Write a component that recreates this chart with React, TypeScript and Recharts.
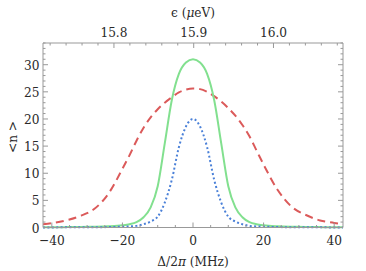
import { LineChart, Line, XAxis, YAxis } from "recharts";

// detuning grid, MHz
const delta = [
  -42.5, -40, -36, -32, -28, -24, -20, -18, -16, -14, -12, -10, -8, -6, -4, -2,
  0, 2, 4, 6, 8, 10, 12, 14, 16, 18, 20, 24, 28, 32, 36, 40, 42.5,
];

const redDashed = [
  0.6, 0.8, 1.3, 2.1, 3.4, 6.2, 10.8, 13.3, 16.0, 18.4, 20.3, 21.8, 23.0, 24.0,
  24.9, 25.4, 25.6, 25.5, 25.0, 24.2, 23.2, 22.0, 20.6, 18.9, 16.8, 14.2, 11.6,
  6.9, 3.8, 2.3, 1.3, 0.85, 0.6,
];

const greenSolid = [
  0.05, 0.05, 0.07, 0.1, 0.14, 0.22, 0.4, 0.6, 1.0, 1.9, 3.7, 7.6, 15.5, 23.5,
  28.3, 30.4, 31.0, 30.4, 28.3, 23.5, 15.5, 7.6, 3.7, 1.9, 1.0, 0.6, 0.4,
  0.22, 0.14, 0.1, 0.07, 0.05, 0.05,
];

const blueDotted = [
  0.02, 0.02, 0.03, 0.04, 0.05, 0.08, 0.15, 0.2, 0.3, 0.6, 1.1, 2.0, 4.6, 8.8,
  14.8, 18.6, 20.0, 18.6, 14.8, 8.8, 4.6, 2.0, 1.1, 0.6, 0.3, 0.2, 0.15, 0.08,
  0.05, 0.04, 0.03, 0.02, 0.02,
];

const xMajor = [-40, -20, 0, 20, 40];
const yMajor = [0, 5, 10, 15, 20, 25, 30];
const epsMajor = [15.8, 15.9, 16.0];
// minor ticks on the energy axis, μeV
const epsTicks = [
  15.72, 15.74, 15.76, 15.78, 15.8, 15.82, 15.84, 15.86, 15.88, 15.9, 15.92,
  15.94, 15.96, 15.98, 16.0, 16.02, 16.04, 16.06, 16.08,
];

// energy axis sits on the detuning scale: 15.9 μeV ≈ 0.2 MHz, 0.1 μeV ≈ 22.6 MHz
const EPS0 = 15.9;
const D0 = 0.2;
const MHZ_PER_UEV = 226;
const epsToDelta = (e: number) => (e - EPS0) * MHZ_PER_UEV + D0;
const deltaToEps = (d: number) => (d - D0) / MHZ_PER_UEV + EPS0;

const xTicks = Array.from({ length: 17 }, (_, i) => -40 + i * 5);
const yTicks = Array.from({ length: 35 }, (_, i) => i);
const topTicks = epsTicks.map(epsToDelta);

const data = delta.map((d, i) => ({
  d,
  red: redDashed[i],
  green: greenSolid[i],
  blue: blueDotted[i],
}));

const AXIS = "#999";
const TEXT = "#2a2a2a";
const textStyle = {
  fontFamily: "'DejaVu Serif Condensed', 'DejaVu Serif', serif",
  fontSize: 13.5,
};

const fmt = (v: number) => (v < 0 ? "\u2212" + Math.abs(v) : String(v));

function BottomTick({ x, y, payload }: any) {
  const v = payload.value;
  const major = xMajor.includes(v);
  return (
    <g>
      <line x1={x} x2={x} y1={y} y2={y - (major ? 5 : 2.5)} stroke={AXIS} />
      {major && (
        <text x={x} y={y + 17} textAnchor="middle" fill={TEXT} style={textStyle}>
          {fmt(v)}
        </text>
      )}
    </g>
  );
}

function TopTick({ x, y, payload }: any) {
  const e = Math.round(deltaToEps(payload.value) * 100) / 100;
  const major = epsMajor.some((m) => Math.abs(m - e) < 1e-6);
  return (
    <g>
      <line x1={x} x2={x} y1={y} y2={y + (major ? 5 : 2.5)} stroke={AXIS} />
      {major && (
        <text x={x} y={y - 6} textAnchor="middle" fill={TEXT} style={textStyle}>
          {e.toFixed(1)}
        </text>
      )}
    </g>
  );
}

function LeftTick({ x, y, payload }: any) {
  const v = payload.value;
  const major = yMajor.includes(v);
  return (
    <g>
      <line x1={x} x2={x + (major ? 5 : 2.5)} y1={y} y2={y} stroke={AXIS} />
      {major && (
        <text x={x - 3.5} y={y + 5} textAnchor="end" fill={TEXT} style={textStyle}>
          {v}
        </text>
      )}
    </g>
  );
}

function RightTick({ x, y, payload }: any) {
  const major = yMajor.includes(payload.value);
  return <line x1={x} x2={x - (major ? 5 : 2.5)} y1={y} y2={y} stroke={AXIS} />;
}

const bottomTitle = () => (
  <text x={193} y={266} textAnchor="middle" fill={TEXT} style={textStyle}>
    Δ/2<tspan fontStyle="italic">π</tspan> (MHz)
  </text>
);

const topTitle = () => (
  <text x={193} y={17} textAnchor="middle" fill={TEXT} style={textStyle}>
    ϵ (<tspan fontStyle="italic">μ</tspan>eV)
  </text>
);

const leftTitle = () => (
  <text
    x={12}
    y={137}
    textAnchor="middle"
    fill={TEXT}
    style={textStyle}
    transform="rotate(-90 12 137)"
    dominantBaseline="central"
  >
    {"<n >"}
  </text>
);

export default function App() {
  return (
    <div style={{ position: "fixed", left: 0, top: 0, background: "#fff" }}>
      <LineChart
        width={366}
        height={271}
        data={data}
        margin={{ top: 0, right: 0, bottom: 0, left: 0 }}
      >
        <XAxis
          dataKey="d"
          type="number"
          domain={[-42.5, 42.5]}
          allowDataOverflow
          ticks={xTicks}
          interval={0}
          height={43.5}
          tickSize={0}
          tickMargin={0}
          tick={<BottomTick />}
          axisLine={{ stroke: AXIS }}
          label={{ content: bottomTitle }}
        />
        <XAxis
          xAxisId="top"
          dataKey="d"
          orientation="top"
          type="number"
          domain={[-42.5, 42.5]}
          allowDataOverflow
          ticks={topTicks}
          interval={0}
          height={43}
          tickSize={0}
          tickMargin={0}
          tick={<TopTick />}
          axisLine={{ stroke: AXIS }}
          label={{ content: topTitle }}
        />
        <YAxis
          type="number"
          domain={[0, 34]}
          ticks={yTicks}
          interval={0}
          width={43}
          tickSize={0}
          tickMargin={0}
          tick={<LeftTick />}
          axisLine={{ stroke: AXIS }}
          label={{ content: leftTitle }}
        />
        <YAxis
          yAxisId="right"
          orientation="right"
          type="number"
          domain={[0, 34]}
          ticks={yTicks}
          interval={0}
          width={23}
          tickSize={0}
          tickMargin={0}
          tick={<RightTick />}
          axisLine={{ stroke: AXIS }}
        />
        {/* invisible series so the mirrored frame axes get a scale */}
        <Line
          xAxisId="top"
          yAxisId="right"
          dataKey="green"
          stroke="none"
          dot={false}
          legendType="none"
          isAnimationActive={false}
        />
        <Line
          dataKey="red"
          type="monotone"
          stroke="#db5a5a"
          strokeWidth={2}
          strokeDasharray="8 5"
          dot={false}
          isAnimationActive={false}
        />
        <Line
          dataKey="green"
          type="monotone"
          stroke="#82e08f"
          strokeWidth={2}
          dot={false}
          isAnimationActive={false}
        />
        <Line
          dataKey="blue"
          type="monotone"
          stroke="#4a80d8"
          strokeWidth={2}
          strokeDasharray="2 2.4"
          dot={false}
          isAnimationActive={false}
        />
      </LineChart>
    </div>
  );
}
